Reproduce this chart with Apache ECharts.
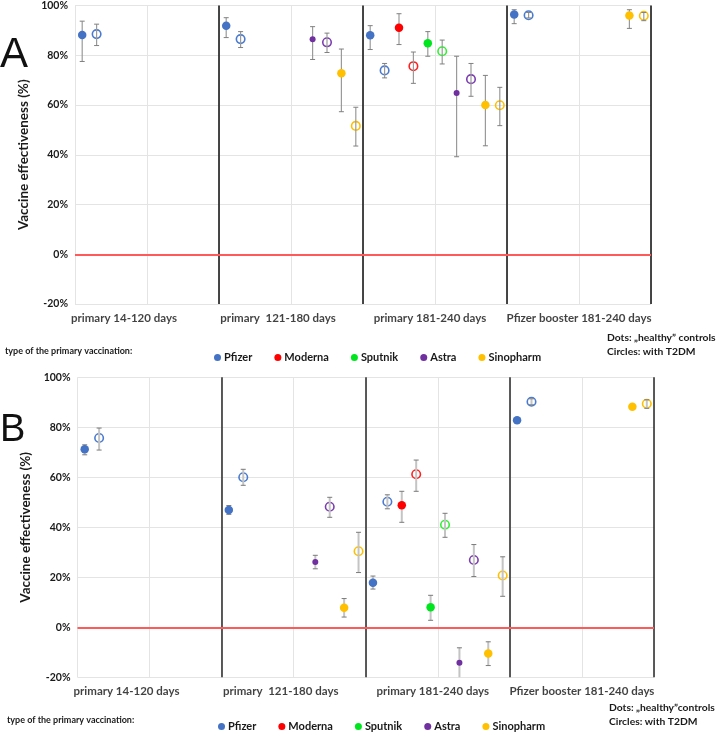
<!DOCTYPE html>
<html><head><meta charset="utf-8">
<script src="https://cdn.jsdelivr.net/npm/echarts@6/dist/echarts.min.js"></script>
<style>html,body{margin:0;padding:0;background:#fff}#c{width:720px;height:732px}</style>
</head><body><div id="c"></div>
<script>
// ---------- data ----------
const periods = ['primary 14-120 days', 'primary  121-180 days', 'primary 181-240 days', 'Pfizer booster 181-240 days'];
const periodLabelAt = [0.68, 2.82, 4.93, 7.0];
const vaccines = ['Pfizer', 'Moderna', 'Sputnik', 'Astra', 'Sinopharm'];
const yTicks = [-20, 0, 20, 40, 60, 80, 100];

// Panel A — dots ("healthy" controls): rows = vaccines, cols = periods
const aDotVal  = [[88.1, 91.9, 88.0, 96.4], [null, null, 91.1, null], [null, null, 84.8, null], [null, 86.4, 64.8, null], [null, 72.8, 60.0, 96.0]];
const aDotLow  = [[77.5, 87.1, 82.3, 92.7], [null, null, 84.3, null], [null, null, 79.6, null], [null, 78.3, 39.2, null], [null, 57.3, 43.6, 90.8]];
const aDotHigh = [[93.7, 95.1, 91.9, 98.3], [null, null, 96.7, null], [null, null, 89.5, null], [null, 91.5, 79.6, null], [null, 82.5, 71.9, 98.3]];
// Panel A — circles (with T2DM)
const aCirVal  = [[88.5, 86.5, 73.9, 96.1], [null, null, 75.6, null], [null, null, 81.6, null], [null, 85.2, 70.4, null], [null, 51.6, 59.9, 95.9]];
const aCirLow  = [[83.9, 83.1, 70.9, 95.0], [null, null, 68.7, null], [null, null, 76.5, null], [null, 81.1, 63.5, null], [null, 43.5, 51.7, 93.9]];
const aCirHigh = [[92.5, 89.5, 76.7, 97.2], [null, null, 81.3, null], [null, null, 86.1, null], [null, 88.9, 76.7, null], [null, 59.1, 67.1, 97.2]];
// Panel B — dots
const bDotVal  = [[71.2, 46.9, 17.8, 82.8], [null, null, 48.8, null], [null, null, 8.0, null], [null, 26.1, -14.2, null], [null, 7.8, -10.5, 88.2]];
const bDotLow  = [[69.0, 45.2, 15.3, 82.4], [null, null, 42.0, null], [null, null, 2.8, null], [null, 23.4, -21.5, null], [null, 4.1, -15.3, 87.5]];
const bDotHigh = [[73.0, 48.7, 20.5, 83.2], [null, null, 54.4, null], [null, null, 12.8, null], [null, 28.8, -8.2, null], [null, 11.5, -5.8, 89.0]];
// Panel B — circles
const bCirVal  = [[75.7, 60.0, 50.2, 90.2], [null, null, 61.2, null], [null, null, 41.0, null], [null, 48.2, 26.9, null], [null, 30.4, 20.7, 89.4]];
const bCirLow  = [[70.9, 56.8, 47.4, 89.0], [null, null, 54.4, null], [null, null, 36.0, null], [null, 44.0, 20.3, null], [null, 21.9, 12.4, 87.6]];
const bCirHigh = [[79.7, 63.2, 53.0, 91.4], [null, null, 66.9, null], [null, null, 45.6, null], [null, 52.0, 33.1, null], [null, 38.0, 28.2, 91.0]];

// ---------- style ----------
const FONT = 'Lato';
const dotColors = ['#4472C4', '#FF0000', '#00E61E', '#7030A0', '#FFC000'];
const cirColors = ['#4A7BD0', '#FF2020', '#33F033', '#7B3DB0', '#FFC000'];
const dotSizes = [8.5, 8.5, 8.5, 6, 8.5];

const chart = echarts.init(document.getElementById('c'), null, {renderer: 'canvas'});

const panels = [
  {dv: aDotVal, dl: aDotLow, dh: aDotHigh, cv: aCirVal, cl: aCirLow, ch: aCirHigh,
   grid: {left: 75, right: 69, top: 4, height: 300}, bar: {c: '#9a9a9a', w: 1.2, cap: '#808080'}, div: '#1a1a1a'},
  {dv: bDotVal, dl: bDotLow, dh: bDotHigh, cv: bCirVal, cl: bCirLow, ch: bCirHigh,
   grid: {left: 77.5, right: 66, top: 377.3, height: 300}, bar: {c: '#c4c4c4', w: 2, cap: '#7a7a7a'}, div: '#333333'}
];

function xPos(g, vi, open) { return g * 2 + 0.1 + 0.2 * (vi * 2 + (open ? 1 : 0)); }

const grids = [], xAxes = [], yAxes = [], series = [];
panels.forEach((p, pi) => {
  grids.push(p.grid);
  xAxes.push({type: 'value', gridIndex: pi, min: 0, max: 8, interval: 1,
    axisLine: {show: false}, axisTick: {show: false}, axisLabel: {show: false},
    splitLine: {show: true, lineStyle: {color: '#e4e4e4', width: 1}}});
  yAxes.push({type: 'value', gridIndex: pi, min: yTicks[0], max: yTicks[yTicks.length - 1], interval: 20,
    axisLine: {show: false}, axisTick: {show: false},
    axisLabel: {formatter: '{value}%', fontFamily: FONT, fontWeight: 'bold', fontSize: 10.5, color: '#1a1a1a', margin: 7},
    splitLine: {show: true, lineStyle: {color: '#e4e4e4', width: 1}},
    name: 'Vaccine effectiveness (%)', nameLocation: 'middle', nameRotate: 90, nameGap: 37,
    nameTextStyle: {fontFamily: FONT, fontWeight: 'bold', fontSize: 13.5, color: '#1a1a1a'}});

  // error bars
  const bars = [];
  vaccines.forEach((v, vi) => {
    for (let g = 0; g < 4; g++) {
      if (p.dv[vi][g] != null) bars.push([xPos(g, vi, false), p.dl[vi][g], p.dh[vi][g]]);
      if (p.cv[vi][g] != null) bars.push([xPos(g, vi, true), p.cl[vi][g], p.ch[vi][g]]);
    }
  });
  series.push({type: 'custom', name: 'err' + pi, xAxisIndex: pi, yAxisIndex: pi, z: 3, clip: true, silent: true,
    data: bars, encode: {x: 0, y: [1, 2]},
    renderItem: (params, api) => {
      const lo = api.coord([api.value(0), api.value(1)]);
      const hi = api.coord([api.value(0), api.value(2)]);
      const hw = 2.5;
      return {type: 'group', children: [
        {type: 'line', shape: {x1: lo[0], y1: lo[1], x2: hi[0], y2: hi[1]}, style: {stroke: p.bar.c, lineWidth: p.bar.w}},
        {type: 'line', shape: {x1: lo[0] - hw, y1: lo[1], x2: lo[0] + hw, y2: lo[1]}, style: {stroke: p.bar.cap, lineWidth: 1}},
        {type: 'line', shape: {x1: hi[0] - hw, y1: hi[1], x2: hi[0] + hw, y2: hi[1]}, style: {stroke: p.bar.cap, lineWidth: 1}}
      ]};
    }});

  vaccines.forEach((v, vi) => {
    const dots = [], cirs = [];
    for (let g = 0; g < 4; g++) {
      if (p.dv[vi][g] != null) dots.push([xPos(g, vi, false), p.dv[vi][g]]);
      if (p.cv[vi][g] != null) cirs.push([xPos(g, vi, true), p.cv[vi][g]]);
    }
    series.push({type: 'scatter', name: v, xAxisIndex: pi, yAxisIndex: pi, z: 4, symbol: 'circle',
      symbolSize: dotSizes[vi], data: dots, itemStyle: {color: dotColors[vi], opacity: 1}});
    series.push({type: 'scatter', name: v + ' T2DM', xAxisIndex: pi, yAxisIndex: pi, z: 2, symbol: 'circle',
      symbolSize: 8.5, data: cirs, itemStyle: {color: 'rgba(255,255,255,0)', borderColor: cirColors[vi], borderWidth: 1.6, opacity: 1}});
  });

  // dividers + zero line
  series.push({type: 'line', name: 'ref' + pi, xAxisIndex: pi, yAxisIndex: pi, data: [], z: 1,
    markLine: {silent: true, symbol: ['none', 'none'], label: {show: false}, animation: false,
      data: [
        {xAxis: 2, lineStyle: {color: p.div, width: 1.6, type: 'solid'}},
        {xAxis: 4, lineStyle: {color: p.div, width: 1.6, type: 'solid'}},
        {xAxis: 6, lineStyle: {color: p.div, width: 1.6, type: 'solid'}},
        {xAxis: 8, lineStyle: {color: p.div, width: 1.6, type: 'solid'}},
        {yAxis: 0, lineStyle: {color: '#ff5a5a', width: 2, type: 'solid'}}
      ]}});

  // period labels below the plot
  series.push({type: 'scatter', name: 'periods' + pi, xAxisIndex: pi, yAxisIndex: pi, symbolSize: 0, silent: true, clip: false,
    data: periods.map((t, i) => ({value: [periodLabelAt[i], yTicks[0]], name: t})),
    label: {show: true, position: 'bottom', distance: 8, formatter: '{b}', fontFamily: FONT, fontWeight: 'bold', fontSize: 11.5, color: '#111'}});
});

const legendBase = {orient: 'horizontal', icon: 'circle', itemWidth: 7, itemHeight: 7, itemGap: 22,
  selectedMode: false, data: vaccines,
  textStyle: {fontFamily: FONT, fontWeight: 'bold', fontSize: 11, color: '#1a1a1a', padding: [0, 0, 0, -2]}};

const noteStyle = {fontFamily: FONT, fontWeight: 'bold', fontSize: 10.3, fill: '#1a1a1a'};
const smallStyle = {fontFamily: FONT, fontWeight: 'bold', fontSize: 9, fill: '#1a1a1a'};

chart.setOption({
  animation: false,
  grid: grids, xAxis: xAxes, yAxis: yAxes, series: series,
  legend: [
    Object.assign({}, legendBase, {left: 209, top: 347}),
    Object.assign({}, legendBase, {left: 213, top: 716})
  ],
  graphic: [
    {type: 'text', left: 0, top: 34, style: {text: 'A', fontFamily: 'Liberation Sans', fontSize: 42, fill: '#111'}},
    {type: 'text', left: 0, top: 412, style: {text: 'B', fontFamily: 'Liberation Sans', fontSize: 38, fill: '#111'}},
    {type: 'text', left: 5, top: 347, style: Object.assign({text: 'type of the primary vaccination:'}, smallStyle)},
    {type: 'text', left: 7, top: 716, style: Object.assign({text: 'type of the primary vaccination:'}, smallStyle)},
    {type: 'text', left: 607, top: 333, style: Object.assign({text: 'Dots: \u201Ehealthy\u201D controls'}, noteStyle)},
    {type: 'text', left: 607, top: 347, style: Object.assign({text: 'Circles: with T2DM'}, noteStyle)},
    {type: 'text', left: 609, top: 703, style: Object.assign({text: 'Dots: \u201Ehealthy\u201Dcontrols'}, noteStyle)},
    {type: 'text', left: 609, top: 717, style: Object.assign({text: 'Circles: with T2DM'}, noteStyle)}
  ]
});
</script></body></html>
